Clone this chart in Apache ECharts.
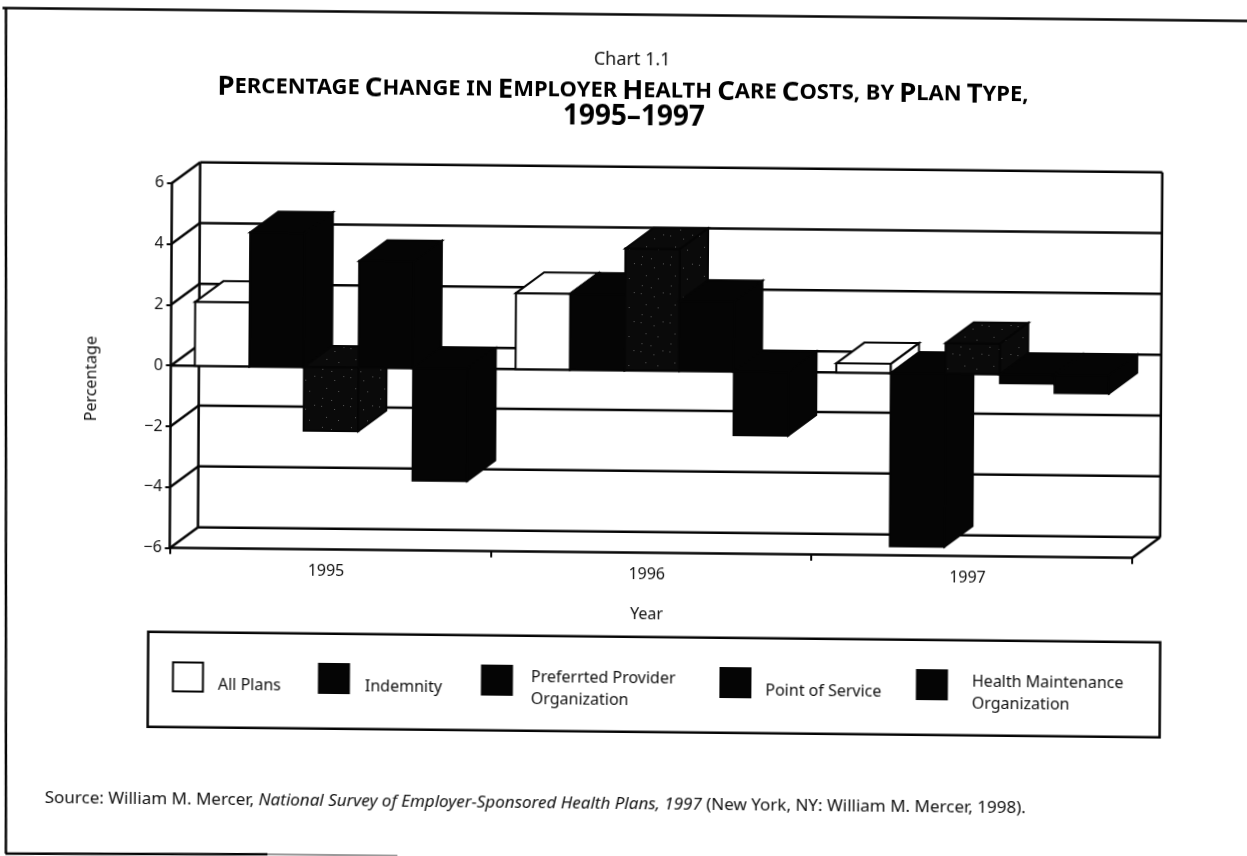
<!DOCTYPE html>
<html><head><meta charset="utf-8">
<style>html,body{margin:0;padding:0;background:#fff;overflow:hidden}
#c{width:1247px;height:880px;transform-origin:623.5px 428px;transform:matrix(1,0.0104,-0.006,1,0,0)}</style>
<script src="https://cdn.jsdelivr.net/npm/echarts@6/dist/echarts.min.js"></script>
</head><body><div id="c"></div>
<script>
const years = ['1995','1996','1997'];
const yTicks = [-6,-4,-2,0,2,4,6];
const allPlans = [2.1,2.5,0.3];
const indemnity = [4.4,2.5,-5.7];
const ppo = [-2.1,4.0,1.0];
const pointOfService = [3.5,2.3,-0.3];
const hmo = [-3.7,-2.1,-0.6];
const seriesNames = ['All Plans','Indemnity','Preferrted Provider Organization','Point of Service','Health Maintenance Organization'];

const DX=28, DY=21, INK='#050505', FONT='"Noto Sans"', LW=2.5;
function speckle(){
  const c=document.createElement('canvas'); c.width=c.height=29;
  const g=c.getContext('2d'); g.fillStyle='#0a0a0a'; g.fillRect(0,0,29,29);
  g.fillStyle='#5c5c5c';
  [[2,3],[15,6],[24,2],[7,14],[19,17],[3,24],[12,26]].forEach(p=>g.fillRect(p[0],p[1],1,1));
  return c;
}
function barRender(slotIndex){
  return function(params,api){
    const p0=api.coord([api.value(0),0]), pv=api.coord([api.value(0),api.value(1)]);
    const slot=api.size([1,0])[0]*0.851/5;
    const x0=p0[0]-2.5*slot+slotIndex*slot, x1=x0+slot;
    const top=Math.min(p0[1],pv[1]), bot=Math.max(p0[1],pv[1]);
    const st=Object.assign(api.style(),{stroke:INK,lineWidth:2,lineJoin:'miter'});
    return {type:'group',children:[
      {type:'polygon',shape:{points:[[x0,top],[x1,top],[x1,bot],[x0,bot]]},style:st},
      {type:'polygon',shape:{points:[[x0,top],[x0+DX,top-DY],[x1+DX,top-DY],[x1,top]]},style:st},
      {type:'polygon',shape:{points:[[x1,top],[x1+DX,top-DY],[x1+DX,bot-DY],[x1,bot]]},style:st}
    ]};
  };
}
function line(a,b){return {type:'line',shape:{x1:a[0],y1:a[1],x2:b[0],y2:b[1]},style:{stroke:INK,lineWidth:LW}};}
function frameRender(params,api){
  const cs=params.coordSys, v=api.value(1), y=api.coord([0,v])[1];
  const L=cs.x, R=cs.x+cs.width, kids=[
    line([L,y],[L+DX,y-DY]),
    line([L+DX,y-DY],[R+DX,y-DY])
  ];
  if(v===0) kids.push(line([L,y],[R,y]));
  if(v===-6){
    kids.push(line([R,y],[R+DX,y-DY]));
    kids.push(line([L+DX,cs.y-DY],[L+DX,y-DY]));
    kids.push(line([R+DX,cs.y-DY],[R+DX,y-DY]));
  }
  return {type:'group',children:kids};
}
function barSeries(i,vals,fill){
  return {type:'custom',name:seriesNames[i],renderItem:barRender(i),clip:false,z:3,
    encode:{x:0,y:1},itemStyle:{color:fill},data:vals.map((v,k)=>[k,v])};
}
function legendAt(i,left,top,gap){
  return {left:left,top:top,orient:'vertical',data:[seriesNames[i]],icon:'rect',itemWidth:30,itemHeight:29,
    selectedMode:false,padding:0,
    itemStyle:{borderColor:INK,borderWidth:2,color:i===0?'#fff':INK},
    formatter:n=>'{s| }\n'+n.replace(' Provider Organization',' Provider\nOrganization').replace(' Maintenance Organization',' Maintenance\nOrganization'),
    textStyle:{fontFamily:FONT,fontSize:16,color:'#111',lineHeight:22,padding:[0,0,0,gap],rich:{s:{lineHeight:15,fontSize:8}}}};
}
const chart=echarts.init(document.getElementById('c'),null,{width:1247,height:880});
chart.setOption({
  animation:false,backgroundColor:'#fff',
  title:[
    {text:'Chart 1.1',left:625,top:46,textAlign:'center',textStyle:{fontFamily:FONT,fontSize:18,fontWeight:'normal',color:'#111'}},
    {text:'{a|P}{b|ERCENTAGE} {a|C}{b|HANGE IN} {a|E}{b|MPLOYER} {a|H}{b|EALTH} {a|C}{b|ARE} {a|C}{b|OSTS, BY} {a|P}{b|LAN} {a|T}{b|YPE,}',
     left:616,top:72,textAlign:'center',
     textStyle:{rich:{a:{fontFamily:FONT,fontSize:27.5,fontWeight:'bold',color:'#000'},b:{fontFamily:FONT,fontSize:22,fontWeight:'bold',color:'#000'}}}},
    {text:'1995–1997',left:627,top:98,textAlign:'center',textStyle:{fontFamily:FONT,fontSize:28,fontWeight:'bold',color:'#000'}},
    {text:'Source: William M. Mercer, {i|National Survey of Employer-Sponsored Health Plans, 1997} (New York, NY: William M. Mercer, 1998).',
     left:42,top:791,textStyle:{fontFamily:FONT,fontSize:17,fontWeight:'normal',color:'#111',
       rich:{i:{fontFamily:FONT,fontSize:17,fontStyle:'italic',color:'#111'}}}}
  ],
  grid:{left:170.6,top:187.7,width:962.2,height:365,containLabel:false},
  xAxis:{type:'category',data:years,boundaryGap:true,name:'Year',nameLocation:'middle',nameGap:54,
    nameTextStyle:{fontFamily:FONT,fontSize:16,color:'#111',padding:[0,8,0,0]},
    axisLine:{onZero:false,lineStyle:{color:INK,width:LW}},
    axisTick:{show:true,length:6,lineStyle:{color:INK,width:2}},
    axisLabel:{fontFamily:FONT,fontSize:16,color:'#111',margin:14,padding:[0,8,0,0]}},
  yAxis:{type:'value',min:-6,max:6,interval:2,name:'Percentage',nameLocation:'middle',nameGap:71,
    nameTextStyle:{fontFamily:FONT,fontSize:16,color:'#111',padding:[0,28,0,0]},
    splitLine:{show:false},
    axisLine:{show:true,onZero:false,lineStyle:{color:INK,width:LW}},
    axisTick:{show:true,length:5,lineStyle:{color:INK,width:2}},
    axisLabel:{fontFamily:FONT,fontSize:16,color:'#111',margin:8,padding:[7,0,0,0],formatter:v=>v<0?'−'+Math.abs(v):String(v)}},
  legend:[legendAt(0,173.5,663,10),legendAt(1,319.5,663,11),legendAt(2,482.5,652,14),legendAt(3,721,663,10),legendAt(4,917.5,652,20)],
  graphic:[
    {type:'rect',z:-1,shape:{x:149.5,y:636.7,width:1012,height:95},style:{fill:'none',stroke:INK,lineWidth:LW}},
    {type:'line',z:-1,shape:{x1:0,y1:14.5,x2:1247,y2:14.5},style:{stroke:INK,lineWidth:LW}},
    {type:'line',z:-1,shape:{x1:3.5,y1:14,x2:8.5,y2:860},style:{stroke:INK,lineWidth:LW}},
    {type:'line',z:-1,shape:{x1:8,y1:860,x2:270,y2:858},style:{stroke:INK,lineWidth:LW}},
    {type:'line',z:-1,shape:{x1:270,y1:858,x2:400,y2:858},style:{stroke:'#777',lineWidth:1.5}}
  ],
  series:[
    {type:'custom',name:'frame',renderItem:frameRender,clip:false,z:1,encode:{x:0,y:1},data:yTicks.map(v=>[0,v])},
    barSeries(0,allPlans,'#ffffff'),
    barSeries(1,indemnity,INK),
    barSeries(2,ppo,{image:speckle(),repeat:'repeat'}),
    barSeries(3,pointOfService,INK),
    barSeries(4,hmo,INK)
  ]
});
</script></body></html>
